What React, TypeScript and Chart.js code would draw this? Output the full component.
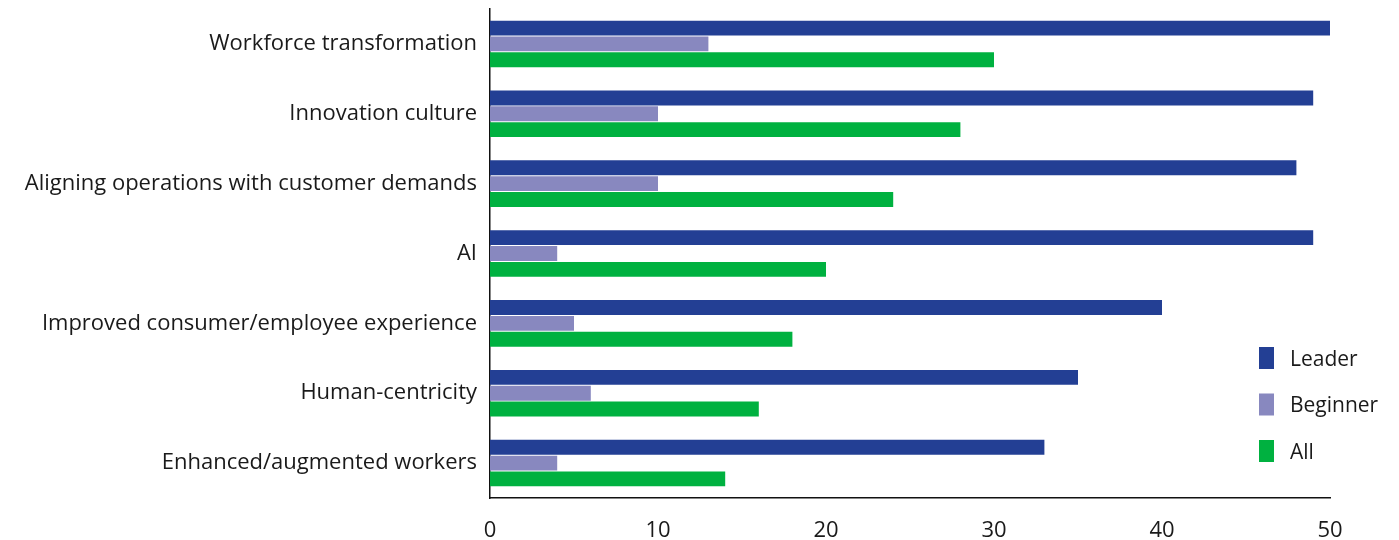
import React, { useEffect, useRef } from "react";
import { Chart, registerables } from "chart.js";

Chart.register(...registerables);

const categories = [
  "Workforce transformation",
  "Innovation culture",
  "Aligning operations with customer demands",
  "AI",
  "Improved consumer/employee experience",
  "Human-centricity",
  "Enhanced/augmented workers",
];
const leaderValues = [50, 49, 48, 49, 40, 35, 33];
const beginnerValues = [13, 10, 10, 4, 5, 6, 4];
const allValues = [30, 28, 24, 20, 18, 16, 14];
const seriesNames = ["Leader", "Beginner", "All"];
const seriesColors = ["#233F94", "#8888BF", "#00B140"];
const xTicks = [0, 10, 20, 30, 40, 50];

const FONT = "'Open Sans', sans-serif";

const legendPlugin = {
  id: "insideLegend",
  afterDraw(chart: any) {
    const ctx = chart.ctx;
    ctx.save();
    ctx.font = `21px ${FONT}`;
    ctx.textBaseline = "middle";
    ctx.textAlign = "left";
    chart.data.datasets.forEach((ds: any, i: number) => {
      const cy = 358 + i * 46.5;
      ctx.fillStyle = ds.backgroundColor;
      ctx.fillRect(1259, cy - 11, 15, 22);
      ctx.fillStyle = "#1a1a1a";
      ctx.fillText(ds.label, 1290, cy + 2);
    });
    ctx.restore();
  },
};

export default function App() {
  const ref = useRef<HTMLCanvasElement>(null);
  useEffect(() => {
    if (!ref.current) return;
    const values = [leaderValues, beginnerValues, allValues];
    const chart = new Chart(ref.current, {
      type: "bar",
      data: {
        labels: categories,
        datasets: seriesNames.map((name, i) => ({
          label: name,
          data: values[i],
          backgroundColor: seriesColors[i],
          borderWidth: 0,
          barPercentage: 0.94,
          categoryPercentage: 0.68,
        })),
      },
      options: {
        indexAxis: "y",
        animation: false,
        responsive: true,
        maintainAspectRatio: false,
        layout: { padding: { left: 0, right: 69, top: 9, bottom: 0 } },
        plugins: {
          legend: { display: false },
          tooltip: { enabled: false },
        },
        scales: {
          x: {
            min: 0,
            max: 50,
            afterBuildTicks: (scale: any) => {
              scale.ticks = xTicks.map((v) => ({ value: v }));
            },
            afterFit: (scale: any) => {
              scale.height = 42;
            },
            grid: { display: false, drawTicks: false },
            border: { display: true, color: "#111", width: 1.5 },
            ticks: {
              padding: 20,
              color: "#1a1a1a",
              font: { family: FONT, size: 22 },
              maxRotation: 0,
            },
          },
          y: {
            afterFit: (scale: any) => {
              scale.width = 490;
              scale.paddingTop = 0;
              scale.paddingBottom = 0;
            },
            grid: { display: false, drawTicks: false },
            border: { display: true, color: "#111", width: 1.5 },
            ticks: {
              padding: 13,
              color: "#1a1a1a",
              font: { family: FONT, size: 22 },
            },
          },
        },
      },
      plugins: [legendPlugin],
    });
    return () => chart.destroy();
  }, []);
  return (
    <div style={{ position: "absolute", left: 0, top: 0, width: 1399, height: 540 }}>
      <canvas ref={ref} />
    </div>
  );
}
